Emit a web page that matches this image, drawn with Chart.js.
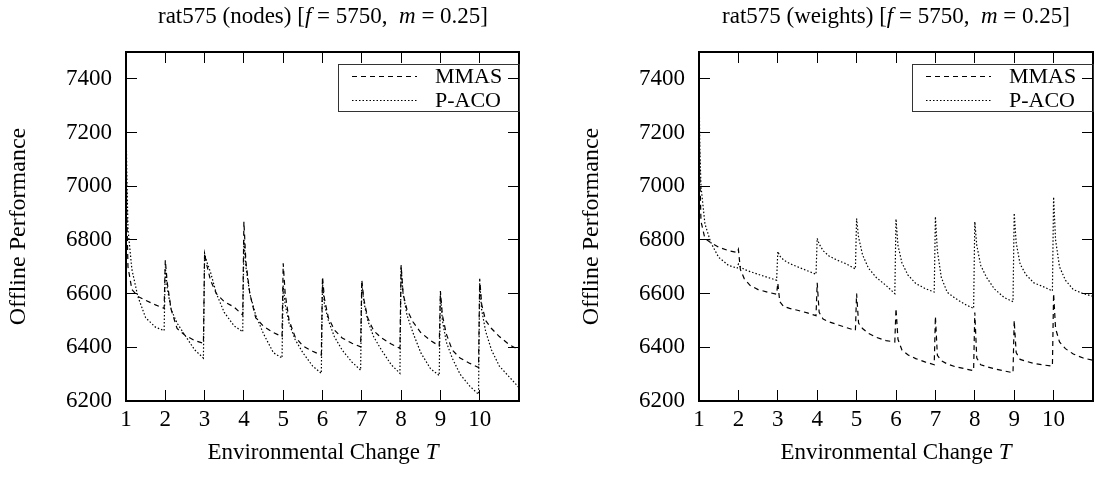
<!DOCTYPE html>
<html>
<head>
<meta charset="utf-8">
<script src="https://cdn.jsdelivr.net/npm/chart.js@4"></script>
<style>
  body { margin: 0; background: #fff; }
  #wrap { position: relative; width: 1098px; height: 477px; overflow: hidden; }
  .panel { position: absolute; top: 0; width: 549px; height: 477px; }
  .txt { position: absolute; font-family: "Liberation Serif", "DejaVu Serif", serif; color: #000;
         text-align: center; white-space: pre; }
  .ttl { font-size: 23px; line-height: 23px; top: 4px; }
  .xt { font-size: 23px; line-height: 23px; top: 440px; }
</style>
</head>
<body>
<div id="wrap">
  <div class="panel" style="left:0"><canvas id="nodes" width="549" height="477"></canvas></div>
  <div class="panel" style="left:549px"><canvas id="weights" width="549" height="477"></canvas></div>
  <div class="txt ttl" style="left:98px;width:450px">rat575 (nodes) [<i>f</i> = 5750,  <i>m</i> = 0.25]</div>
  <div class="txt ttl" style="left:671px;width:450px">rat575 (weights) [<i>f</i> = 5750,  <i>m</i> = 0.25]</div>
  <div class="txt xt" style="left:123px;width:400px">Environmental Change <i>T</i></div>
  <div class="txt xt" style="left:696px;width:400px">Environmental Change <i>T</i></div>
</div>
<script>
// sample positions along the environmental change axis
const xs = [1, 1.02, 1.05, 1.15, 1.3, 1.5, 1.75, 1.97,
  2, 2.05, 2.15, 2.3, 2.5, 2.75, 2.97,
  3, 3.05, 3.15, 3.3, 3.5, 3.75, 3.97,
  4, 4.05, 4.15, 4.3, 4.5, 4.75, 4.97,
  5, 5.05, 5.15, 5.3, 5.5, 5.75, 5.97,
  6, 6.05, 6.15, 6.3, 6.5, 6.75, 6.97,
  7, 7.05, 7.15, 7.3, 7.5, 7.75, 7.97,
  8, 8.05, 8.15, 8.3, 8.5, 8.75, 8.97,
  9, 9.05, 9.15, 9.3, 9.5, 9.75, 9.97,
  10, 10.05, 10.15, 10.3, 10.5, 10.75, 11];

const mmasNodes = [7250, 6900, 6700, 6615, 6590, 6575, 6558, 6545,
  6725, 6640, 6540, 6470, 6445, 6425, 6415,
  6750, 6710, 6650, 6600, 6570, 6550, 6520,
  6868, 6720, 6600, 6510, 6478, 6455, 6440,
  6713, 6600, 6500, 6440, 6405, 6385, 6371,
  6663, 6580, 6510, 6465, 6435, 6415, 6402,
  6651, 6580, 6510, 6462, 6435, 6412, 6396,
  6706, 6600, 6540, 6495, 6455, 6425, 6405,
  6610, 6520, 6450, 6390, 6360, 6340, 6325,
  6655, 6560, 6500, 6470, 6440, 6410, 6390];

const pacoNodes = [7250, 7050, 6840, 6690, 6590, 6510, 6475, 6462,
  6700, 6620, 6540, 6490, 6445, 6390, 6360,
  6750, 6720, 6680, 6600, 6530, 6480, 6458,
  6800, 6700, 6600, 6520, 6450, 6380, 6360,
  6630, 6560, 6490, 6430, 6380, 6330, 6303,
  6640, 6560, 6500, 6440, 6390, 6345, 6315,
  6640, 6570, 6500, 6440, 6390, 6335, 6303,
  6700, 6600, 6520, 6455, 6380, 6320, 6295,
  6600, 6500, 6420, 6360, 6300, 6255, 6225,
  6640, 6540, 6460, 6390, 6330, 6290, 6250];

const mmasWeights = [7400, 7050, 6870, 6805, 6790, 6773, 6760, 6753,
  6765, 6690, 6655, 6630, 6615, 6605, 6598,
  6640, 6570, 6552, 6545, 6538, 6528, 6518,
  6640, 6530, 6505, 6495, 6485, 6473, 6463,
  6600, 6490, 6470, 6452, 6437, 6425, 6420,
  6545, 6430, 6390, 6372, 6358, 6345, 6335,
  6515, 6370, 6350, 6338, 6328, 6320, 6313,
  6530, 6360, 6335, 6328, 6320, 6312, 6305,
  6500, 6380, 6355, 6348, 6340, 6334, 6330,
  6600, 6470, 6420, 6395, 6375, 6360, 6352];

const pacoWeights = [7400, 7150, 7000, 6860, 6790, 6735, 6705, 6695,
  6710, 6700, 6690, 6682, 6672, 6660, 6650,
  6757, 6740, 6725, 6712, 6700, 6685, 6672,
  6806, 6785, 6760, 6740, 6725, 6710, 6692,
  6880, 6810, 6745, 6695, 6660, 6630, 6600,
  6878, 6780, 6715, 6670, 6638, 6618, 6606,
  6887, 6760, 6660, 6605, 6583, 6560, 6545,
  6868, 6780, 6705, 6660, 6617, 6585, 6570,
  6900, 6790, 6710, 6670, 6640, 6625, 6610,
  6960, 6800, 6700, 6650, 6615, 6600, 6590];

const xTicks = [1, 2, 3, 4, 5, 6, 7, 8, 9, 10];
const yTicks = [6200, 6400, 6600, 6800, 7000, 7200, 7400];

const FONT = '"Liberation Serif", "DejaVu Serif", serif';
Chart.defaults.font.family = FONT;
Chart.defaults.font.size = 23;
Chart.defaults.color = '#000';

// gnuplot style key: framed box in the top right corner of the plot
const boxLegend = {
  id: 'boxLegend',
  afterDraw(chart) {
    const { ctx, chartArea: a } = chart;
    const w = 181, h = 47, left = a.right - w, top = a.top + 12;
    ctx.save();
    ctx.setLineDash([]);
    ctx.lineWidth = 1;
    ctx.strokeStyle = '#333';
    ctx.strokeRect(Math.round(left) + 0.5, Math.round(top) + 0.5, w, h);
    chart.data.datasets.forEach((ds, i) => {
      const y = Math.round(top + 12 + i * 24) + 0.5;
      ctx.setLineDash(ds.borderDash);
      ctx.lineWidth = ds.borderWidth;
      ctx.strokeStyle = ds.borderColor;
      ctx.beginPath();
      ctx.moveTo(left + 14, y);
      ctx.lineTo(left + 79, y);
      ctx.stroke();
      ctx.setLineDash([]);
      ctx.fillStyle = '#000';
      ctx.font = '22px ' + FONT;
      ctx.textBaseline = 'middle';
      ctx.fillText(ds.label, left + 97, y + 1);
    });
    ctx.restore();
  }
};

function pts(vals) {
  return xs.map((x, i) => ({ x: x, y: vals[i] }));
}

function inwardGrid() {
  return { drawOnChartArea: false, drawTicks: true, tickLength: -11, color: '#000', lineWidth: 1 };
}

function makeChart(id, mmas, paco, yWidth, rightWidth, titlePad) {
  const ctx = document.getElementById(id).getContext('2d');
  const setX = s => { s.ticks = xTicks.map(v => ({ value: v })); };
  const setY = s => { s.ticks = yTicks.map(v => ({ value: v })); };
  const border = { display: true, color: '#000', width: 2 };
  const plain = v => String(v);

  return new Chart(ctx, {
    type: 'line',
    data: {
      datasets: [
        {
          label: 'MMAS',
          data: pts(mmas),
          borderColor: '#000',
          borderWidth: 1.2,
          borderDash: [5, 4],
          pointRadius: 0,
          fill: false,
          tension: 0
        },
        {
          label: 'P-ACO',
          data: pts(paco),
          borderColor: '#000',
          borderWidth: 1.2,
          borderDash: [1.5, 2],
          pointRadius: 0,
          fill: false,
          tension: 0
        }
      ]
    },
    options: {
      responsive: false,
      animation: false,
      devicePixelRatio: 1,
      layout: { padding: 0 },
      plugins: {
        legend: { display: false },
        tooltip: { enabled: false }
      },
      scales: {
        x: {
          type: 'linear', position: 'bottom', min: 1, max: 11,
          afterBuildTicks: setX,
          afterFit: s => { s.height = 76; },
          grid: inwardGrid(), border: border,
          ticks: { padding: 16, maxRotation: 0, autoSkip: false, callback: plain }
        },
        x2: {
          type: 'linear', position: 'top', min: 1, max: 11,
          afterBuildTicks: setX,
          afterFit: s => { s.height = 52; },
          grid: inwardGrid(), border: border,
          ticks: { display: false }
        },
        y: {
          type: 'linear', position: 'left', min: 6200, max: 7500,
          afterBuildTicks: setY,
          afterFit: s => { s.width = yWidth; },
          grid: inwardGrid(), border: border,
          ticks: { padding: 25, autoSkip: false, callback: plain },
          title: { display: true, text: 'Offline Performance', font: { size: 24 },
                   padding: { top: titlePad, bottom: 0 } }
        },
        y2: {
          type: 'linear', position: 'right', min: 6200, max: 7500,
          afterBuildTicks: setY,
          afterFit: s => { s.width = rightWidth; },
          grid: inwardGrid(), border: border,
          ticks: { display: false }
        }
      }
    },
    plugins: [boxLegend]
  });
}

makeChart('nodes', mmasNodes, pacoNodes, 126, 30, 4);
makeChart('weights', mmasWeights, pacoWeights, 150, 5, 28);
</script>
</body>
</html>
